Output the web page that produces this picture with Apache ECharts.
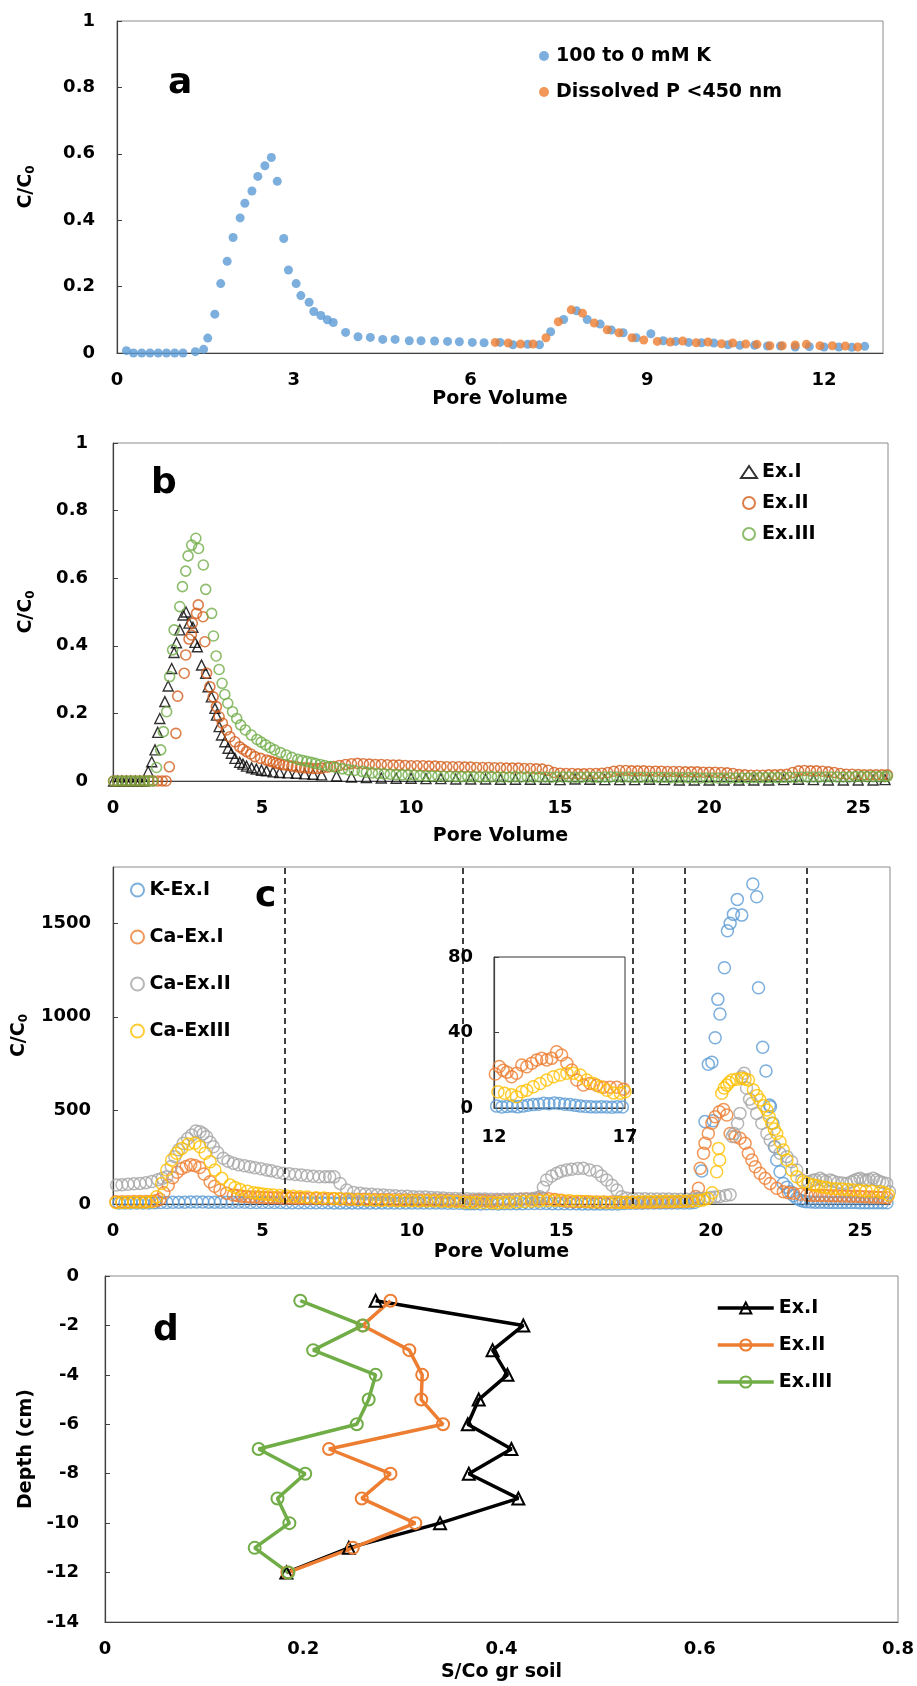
<!DOCTYPE html>
<html>
<head>
<meta charset="utf-8">
<title>Breakthrough curves and soil profiles</title>
<script src="https://cdn.jsdelivr.net/npm/echarts@6.0.0/dist/echarts.min.js"></script>
<style>
  html, body { margin: 0; padding: 0; background: #fff; }
  #chart { width: 917px; height: 1686px; }
</style>
</head>
<body>
<div id="chart"></div>
<script>
// ---- panel a: pore volume vs C/C0 ----
const aK = [[0.16,0.007],[0.28,0],[0.42,0],[0.56,0],[0.70,0],[0.84,0],[0.98,0],[1.12,0],[1.33,0.004],[1.47,0.011],[1.54,0.045],[1.66,0.117],[1.76,0.209],[1.87,0.276],[1.97,0.348],[2.09,0.407],[2.17,0.451],[2.29,0.488],[2.39,0.532],[2.51,0.564],[2.62,0.589],[2.72,0.517],[2.83,0.345],[2.91,0.250],[3.04,0.209],[3.12,0.173],[3.26,0.153],[3.34,0.125],[3.46,0.113],[3.57,0.100],[3.67,0.092],[3.88,0.062],[4.09,0.049],[4.30,0.047],[4.51,0.041],[4.72,0.041],[4.96,0.037],[5.16,0.037],[5.39,0.036],[5.61,0.035],[5.81,0.034],[6.03,0.032],[6.23,0.031],[6.50,0.032],[6.72,0.025],[6.97,0.026],[7.17,0.025],[7.36,0.064],[7.58,0.101],[7.80,0.127],[7.98,0.101],[8.20,0.087],[8.39,0.069],[8.59,0.061],[8.81,0.046],[9.06,0.058],[9.27,0.037],[9.48,0.035],[9.70,0.032],[9.92,0.031],[10.13,0.030],[10.37,0.025],[10.57,0.023],[10.82,0.023],[11.04,0.021],[11.26,0.021],[11.51,0.018],[11.75,0.019],[12.00,0.018],[12.25,0.018],[12.47,0.017],[12.69,0.020]];
const aP = [[6.42,0.032],[6.64,0.030],[6.85,0.027],[7.06,0.027],[7.28,0.046],[7.49,0.094],[7.71,0.130],[7.90,0.120],[8.10,0.090],[8.32,0.070],[8.52,0.061],[8.74,0.046],[8.94,0.039],[9.17,0.035],[9.39,0.033],[9.60,0.036],[9.83,0.031],[10.03,0.033],[10.26,0.028],[10.45,0.030],[10.67,0.027],[10.86,0.026],[11.08,0.022],[11.29,0.022],[11.51,0.024],[11.70,0.026],[11.93,0.022],[12.14,0.022],[12.36,0.021],[12.57,0.018]];

// ---- panel b ----
const bEx1 = [[0.02,0],[0.15,0],[0.3,0],[0.45,0],[0.6,0],[0.75,0],[0.9,0],[1.05,0],[1.18,0.028],[1.30,0.057],[1.41,0.092],[1.50,0.144],[1.57,0.185],[1.74,0.235],[1.85,0.281],[1.97,0.333],[2.05,0.380],[2.13,0.409],[2.24,0.447],[2.35,0.491],[2.45,0.500],[2.55,0.467],[2.68,0.455],[2.75,0.410],[2.83,0.397],[2.97,0.343],[3.11,0.319],[3.19,0.279],[3.30,0.249],[3.42,0.215],[3.47,0.195],[3.56,0.161],[3.64,0.136],[3.75,0.116],[3.86,0.097],[3.97,0.082],[4.09,0.067],[4.25,0.055],[4.36,0.050],[4.48,0.044],[4.65,0.039],[4.81,0.035],[4.98,0.032],[5.15,0.030],[5.37,0.027],[5.59,0.025],[5.87,0.024],[6.15,0.023],[6.43,0.021],[6.71,0.020],[7.0,0.018],[7.5,0.015],[8.0,0.012],[8.5,0.010],[9.0,0.009],[9.5,0.008],[10.0,0.008],[10.5,0.007],[11.0,0.007],[11.5,0.006],[12.0,0.006],[12.5,0.006],[13.0,0.005],[13.5,0.005],[14.0,0.005],[14.5,0.005],[15.0,0.004],[15.5,0.006],[16.0,0.005],[16.5,0.004],[17.0,0.004],[17.5,0.004],[18.0,0.005],[18.5,0.004],[19.0,0.003],[19.5,0.003],[20.0,0.003],[20.5,0.003],[21.0,0.003],[21.5,0.003],[22.0,0.003],[22.5,0.004],[23.0,0.005],[23.5,0.004],[24.0,0.003],[24.5,0.003],[25.0,0.003],[25.5,0.003],[25.9,0.004]];
const bEx2 = [[0.02,0],[0.15,0],[0.3,0],[0.45,0],[0.6,0],[0.75,0],[0.9,0],[1.05,0],[1.2,0],[1.35,0],[1.5,0],[1.65,0],[1.78,0],[1.89,0.042],[2.11,0.141],[2.17,0.251],[2.39,0.319],[2.44,0.373],[2.55,0.420],[2.63,0.432],[2.66,0.467],[2.80,0.496],[2.86,0.521],[3.02,0.486],[3.08,0.412],[3.14,0.319],[3.25,0.279],[3.36,0.249],[3.47,0.220],[3.56,0.190],[3.67,0.171],[3.81,0.151],[3.92,0.131],[4.09,0.116],[4.25,0.101],[4.36,0.094],[4.48,0.087],[4.62,0.080],[4.76,0.072],[4.95,0.067],[5.15,0.062],[5.26,0.059],[5.37,0.056],[5.48,0.053],[5.59,0.050],[5.73,0.048],[5.87,0.046],[6.0,0.044],[6.15,0.042],[6.29,0.040],[6.43,0.039],[6.57,0.038],[6.71,0.037],[6.85,0.037],[7.0,0.038],[7.2,0.041],[7.4,0.043],[7.6,0.046],[7.8,0.049],[8.0,0.051],[8.2,0.052],[8.4,0.051],[8.6,0.050],[8.8,0.049],[9.0,0.049],[9.2,0.048],[9.4,0.047],[9.6,0.047],[9.8,0.046],[10.0,0.045],[10.2,0.045],[10.4,0.045],[10.6,0.044],[10.8,0.044],[11.0,0.043],[11.2,0.042],[11.4,0.042],[11.6,0.042],[11.8,0.041],[12.0,0.041],[12.2,0.040],[12.4,0.040],[12.6,0.040],[12.8,0.039],[13.0,0.039],[13.2,0.038],[13.4,0.038],[13.6,0.038],[13.8,0.037],[14.0,0.037],[14.2,0.036],[14.4,0.035],[14.6,0.032],[14.8,0.025],[15.0,0.023],[15.2,0.022],[15.4,0.022],[15.6,0.021],[15.8,0.021],[16.0,0.022],[16.2,0.022],[16.4,0.023],[16.6,0.025],[16.8,0.029],[17.0,0.031],[17.2,0.031],[17.4,0.030],[17.6,0.030],[17.8,0.030],[18.0,0.029],[18.2,0.029],[18.4,0.029],[18.6,0.028],[18.8,0.028],[19.0,0.028],[19.2,0.027],[19.4,0.027],[19.6,0.027],[19.8,0.026],[20.0,0.026],[20.2,0.026],[20.4,0.025],[20.6,0.024],[20.8,0.022],[21.0,0.019],[21.2,0.018],[21.4,0.017],[21.6,0.017],[21.8,0.017],[22.0,0.018],[22.2,0.018],[22.4,0.019],[22.6,0.020],[22.8,0.025],[23.0,0.030],[23.2,0.031],[23.4,0.030],[23.6,0.030],[23.8,0.029],[24.0,0.027],[24.2,0.025],[24.4,0.022],[24.6,0.020],[24.8,0.020],[25.0,0.019],[25.2,0.018],[25.4,0.018],[25.6,0.018],[25.8,0.018],[25.98,0.018]];
const bEx3 = [[0.02,0],[0.15,0],[0.3,0],[0.45,0],[0.6,0],[0.75,0],[0.9,0],[1.05,0],[1.2,0],[1.33,0],[1.46,0.040],[1.60,0.092],[1.69,0.146],[1.80,0.205],[1.90,0.309],[2.00,0.388],[2.05,0.447],[2.24,0.516],[2.33,0.575],[2.44,0.621],[2.52,0.666],[2.64,0.698],[2.78,0.718],[2.87,0.688],[3.03,0.639],[3.11,0.567],[3.31,0.496],[3.37,0.429],[3.46,0.370],[3.56,0.330],[3.66,0.289],[3.75,0.256],[3.85,0.230],[4.01,0.205],[4.15,0.185],[4.28,0.166],[4.44,0.151],[4.64,0.136],[4.83,0.123],[4.97,0.115],[5.12,0.107],[5.27,0.099],[5.42,0.092],[5.62,0.084],[5.81,0.077],[6.0,0.070],[6.20,0.064],[6.35,0.061],[6.50,0.058],[6.65,0.055],[6.79,0.052],[6.95,0.049],[7.10,0.046],[7.3,0.043],[7.48,0.040],[7.7,0.036],[7.9,0.033],[8.1,0.031],[8.36,0.028],[8.5,0.026],[8.7,0.024],[8.9,0.022],[9.1,0.021],[9.3,0.020],[9.5,0.019],[9.7,0.018],[9.9,0.018],[10.1,0.017],[10.3,0.016],[10.5,0.015],[10.7,0.015],[10.9,0.014],[11.1,0.014],[11.3,0.014],[11.5,0.013],[11.7,0.013],[11.9,0.013],[12.1,0.013],[12.3,0.012],[12.5,0.013],[12.7,0.013],[12.9,0.012],[13.1,0.012],[13.3,0.012],[13.5,0.013],[13.7,0.012],[13.9,0.012],[14.1,0.012],[14.3,0.012],[14.5,0.012],[14.7,0.011],[14.9,0.012],[15.1,0.012],[15.3,0.012],[15.5,0.011],[15.7,0.011],[15.9,0.012],[16.1,0.011],[16.3,0.011],[16.5,0.012],[16.7,0.012],[16.9,0.012],[17.1,0.011],[17.3,0.012],[17.5,0.011],[17.7,0.011],[17.9,0.011],[18.1,0.011],[18.3,0.011],[18.5,0.011],[18.7,0.010],[18.9,0.010],[19.1,0.010],[19.3,0.010],[19.5,0.010],[19.7,0.009],[19.9,0.009],[20.1,0.009],[20.3,0.009],[20.5,0.009],[20.7,0.009],[20.9,0.009],[21.1,0.009],[21.3,0.009],[21.5,0.010],[21.7,0.010],[21.9,0.010],[22.1,0.010],[22.3,0.010],[22.5,0.011],[22.7,0.011],[22.9,0.011],[23.1,0.012],[23.3,0.012],[23.5,0.012],[23.7,0.012],[23.9,0.012],[24.1,0.012],[24.3,0.012],[24.5,0.012],[24.7,0.012],[24.9,0.013],[25.1,0.013],[25.3,0.013],[25.5,0.013],[25.7,0.013],[25.9,0.013],[25.98,0.014]];

// ---- panel c ----
const cK = [[0.2,6],[0.4,6],[0.6,6],[0.8,6],[1.0,6],[1.2,6],[1.4,7],[1.6,8],[1.8,8],[2.0,9],[2.2,10],[2.4,10],[2.6,11],[2.8,11],[3.0,11],[3.2,10],[3.4,10],[3.6,10],[3.8,9],[4.0,9],[4.2,9],[4.4,9],[4.6,8],[4.8,8],[5.0,8],[5.2,8],[5.4,8],[5.6,8],[5.8,7],[6.0,7],[6.2,7],[6.4,7],[6.6,7],[6.8,7],[7.0,7],[7.2,7],[7.4,6],[7.6,6],[7.8,6],[8.0,6],[8.2,6],[8.4,6],[8.6,6],[8.8,6],[9.0,6],[9.2,5],[9.4,5],[9.6,5],[9.8,5],[10.0,5],[10.2,5],[10.4,5],[10.6,5],[10.8,5],[11.0,5],[11.2,4],[11.4,4],[11.6,4],[11.8,2],[11.95,1],[12.1,1],[12.3,0.5],[12.5,0.8],[12.7,1],[12.9,0.6],[13.1,1],[13.3,1.5],[13.5,1.8],[13.7,2],[13.9,2.5],[14.1,2.2],[14.3,2.6],[14.5,2.4],[14.7,2],[14.9,1.8],[15.1,1.4],[15.3,1],[15.5,0.8],[15.7,0.6],[15.9,0.5],[16.1,0.6],[16.3,0.5],[16.5,0.4],[16.7,0.6],[16.9,0.5],[17.1,3],[17.3,4],[17.5,4],[17.7,4],[17.9,5],[18.1,5],[18.3,5],[18.5,5],[18.7,5],[18.9,5],[19.1,5],[19.3,5],[19.45,8],[19.59,30],[19.70,176],[19.81,440],[19.92,746],[20.04,757],[20.08,445],[20.15,888],[20.24,1093],[20.31,1015],[20.46,1262],[20.56,1459],[20.65,1499],[20.76,1547],[20.89,1627],[21.04,1543],[21.41,1709],[21.54,1641],[21.60,1155],[21.74,837],[21.85,710],[21.97,529],[22.0,520],[22.08,431],[22.13,306],[22.21,235],[22.32,172],[22.43,110],[22.55,90],[22.66,66],[22.77,45],[22.88,30],[23.0,20],[23.1,15],[23.2,12],[23.35,11],[23.5,10],[23.65,9.5],[23.8,9],[23.95,8.5],[24.1,8],[24.25,8],[24.4,8],[24.55,8],[24.7,8],[24.85,7.5],[25.0,7],[25.15,7],[25.3,7],[25.45,7],[25.6,7],[25.75,7],[25.9,7]];
const cCa1 = [[0.1,12],[0.3,12],[0.5,12],[0.7,13],[0.9,13],[1.1,14],[1.3,15],[1.45,18],[1.57,25],[1.70,60],[1.85,100],[2.0,140],[2.15,170],[2.3,190],[2.45,200],[2.6,210],[2.74,205],[2.9,195],[3.05,160],[3.25,119],[3.4,95],[3.58,75],[3.8,58],[4.03,48],[4.17,45],[4.3,42],[4.45,40],[4.6,38],[4.75,37],[4.9,36],[5.05,35],[5.2,34],[5.35,33.5],[5.5,33],[5.65,32.5],[5.8,32],[5.95,31.5],[6.1,31],[6.25,30.5],[6.4,30],[6.6,29.5],[6.8,29],[7.0,28],[7.2,28],[7.4,27.5],[7.6,27],[7.8,26.5],[8.0,26],[8.2,25],[8.4,25],[8.6,25],[8.8,24],[9.0,24],[9.2,24],[9.4,23],[9.6,23],[9.8,23],[10.0,22],[10.2,22],[10.4,22],[10.6,21],[10.8,21],[11.0,21],[11.2,20],[11.4,19],[11.6,18],[11.8,17],[12.05,18],[12.2,22],[12.35,20],[12.5,19],[12.67,16.6],[12.86,18.4],[13.06,22.8],[13.25,21.9],[13.44,23.7],[13.63,25.4],[13.82,26.3],[14.01,25.4],[14.2,26.3],[14.39,29.8],[14.58,28.1],[14.78,23.7],[14.97,20.1],[15.16,14.8],[15.41,12.2],[15.67,13],[15.92,12],[16.18,11],[16.43,11],[16.69,11],[16.95,10],[17.15,10],[17.35,10],[17.55,10],[17.75,10],[17.95,10],[18.15,10],[18.35,11],[18.55,11],[18.75,11],[18.95,12],[19.15,13],[19.35,15],[19.5,40],[19.59,84],[19.65,191],[19.76,271],[19.81,324],[19.92,377],[20.04,431],[20.15,466],[20.29,493],[20.43,505],[20.54,475],[20.65,377],[20.82,359],[20.98,351],[21.15,324],[21.26,271],[21.38,235],[21.49,199],[21.65,164],[21.82,137],[21.99,110],[22.21,84],[22.43,66],[22.6,60],[22.77,57],[23.0,52],[23.22,48],[23.35,47],[23.5,46],[23.65,45.5],[23.8,45],[23.95,44.5],[24.1,44],[24.25,43.5],[24.4,43],[24.55,42.5],[24.7,42],[24.85,41],[25.0,40],[25.15,39],[25.3,38],[25.45,37],[25.6,36],[25.75,35],[25.9,34]];
const cCa2 = [[0.12,101],[0.3,103],[0.5,105],[0.7,108],[0.9,110],[1.1,114],[1.3,120],[1.5,130],[1.65,138],[1.80,146],[1.95,200],[2.07,253],[2.2,290],[2.35,324],[2.5,350],[2.63,368],[2.77,390],[2.91,386],[3.02,375],[3.13,359],[3.25,330],[3.36,306],[3.5,275],[3.69,244],[3.85,228],[4.03,217],[4.2,210],[4.4,204],[4.58,199],[4.75,194],[4.95,188],[5.14,182],[5.3,177],[5.5,170],[5.7,164],[5.9,161],[6.1,158],[6.3,155],[6.5,151],[6.7,148],[6.9,146],[7.1,146],[7.25,146],[7.4,145],[7.6,110],[7.82,75],[8.05,62],[8.27,57],[8.45,54],[8.65,52],[8.85,50],[9.05,48],[9.25,46],[9.45,44],[9.65,42],[9.85,41],[10.05,39],[10.25,38],[10.45,37],[10.65,35],[10.85,34],[11.05,32],[11.25,30],[11.45,29],[11.65,28],[11.85,28],[12.05,27],[12.25,27],[12.45,27],[12.65,26],[12.85,26],[13.05,26],[13.25,26],[13.45,26],[13.65,27],[13.85,27],[14.05,30],[14.2,34],[14.29,39],[14.4,90],[14.51,128],[14.68,150],[14.85,164],[15.0,175],[15.18,182],[15.35,186],[15.55,190],[15.74,191],[15.95,182],[16.19,173],[16.35,150],[16.52,128],[16.7,100],[16.86,75],[17.02,39],[17.2,31],[17.4,29],[17.6,28],[17.8,28],[18.0,27],[18.2,27],[18.4,27],[18.6,27],[18.8,26],[19.0,26],[19.2,26],[19.4,27],[19.6,29],[19.8,31],[20.0,35],[20.15,38],[20.3,40],[20.5,45],[20.65,50],[20.72,360],[20.78,377],[20.9,430],[20.98,484],[21.04,680],[21.12,698],[21.2,620],[21.3,560],[21.38,538],[21.54,484],[21.71,431],[21.88,377],[21.99,342],[22.15,306],[22.32,271],[22.55,253],[22.71,226],[22.88,182],[23.05,128],[23.27,119],[23.4,125],[23.5,130],[23.66,137],[23.75,128],[23.85,120],[24.0,128],[24.1,122],[24.25,115],[24.4,112],[24.55,110],[24.7,118],[24.8,125],[24.9,132],[25.0,137],[25.1,130],[25.2,125],[25.3,131],[25.44,137],[25.55,128],[25.65,120],[25.75,115],[25.89,110],[25.98,66]];
const cCa3 = [[0.1,8],[0.3,8],[0.5,8],[0.7,9],[0.9,9],[1.1,10],[1.3,12],[1.46,39],[1.63,110],[1.80,182],[1.96,235],[2.13,271],[2.30,297],[2.52,320],[2.74,324],[2.91,306],[3.08,271],[3.25,226],[3.41,182],[3.64,137],[3.92,101],[4.08,88],[4.25,78],[4.5,68],[4.70,60],[4.85,57],[5.0,54],[5.18,51],[5.36,48],[5.58,45],[5.8,43],[6.03,41],[6.26,39],[6.5,37],[6.8,34],[7.05,32],[7.37,30],[7.6,28],[7.9,25],[8.2,23],[8.49,21],[8.75,20],[9.0,19],[9.25,18.5],[9.5,18],[9.75,17.5],[10.0,17],[10.25,16.5],[10.5,16],[10.75,15.5],[11.0,15],[11.25,14],[11.5,12],[11.75,10],[11.95,8.6],[12.15,8.6],[12.4,7.8],[12.67,7],[12.86,6],[13.06,8.6],[13.25,9.4],[13.5,11.3],[13.76,13],[14.01,14.8],[14.27,16.6],[14.52,17.5],[14.78,18.4],[15.03,18.4],[15.29,17.5],[15.54,14.8],[15.80,13],[16.05,11.3],[16.31,9.4],[16.56,8],[16.82,7.8],[17.0,8.6],[17.2,9.5],[17.4,10],[17.6,11],[17.8,11.5],[18.0,12],[18.2,13],[18.4,13.5],[18.6,14],[18.8,14],[19.0,14.5],[19.2,15],[19.4,16],[19.6,18],[19.75,22],[19.9,30],[20.05,60],[20.2,172],[20.3,235],[20.26,297],[20.37,591],[20.45,620],[20.54,635],[20.62,650],[20.71,662],[20.87,666],[21.04,671],[21.15,668],[21.26,662],[21.43,609],[21.55,580],[21.65,555],[21.78,525],[21.88,502],[21.96,465],[22.04,431],[22.13,400],[22.21,377],[22.32,333],[22.43,288],[22.55,235],[22.71,182],[22.88,146],[23.10,119],[23.25,110],[23.44,101],[23.55,97],[23.7,92],[23.85,88],[24.0,84],[24.2,82],[24.4,80],[24.6,77],[24.78,75],[25.0,72],[25.2,70],[25.4,68],[25.67,66],[25.8,60],[25.95,48]];
const cLines = [5.75, 11.7, 17.38, 19.13, 23.2];

// ---- panel d: depth profile ----
const depth = [-1, -2, -3, -4, -5, -6, -7, -8, -9, -10, -11, -12];
const dEx1 = [0.273, 0.422, 0.391, 0.406, 0.377, 0.366, 0.410, 0.367, 0.417, 0.338, 0.246, 0.183];
const dEx2 = [0.288, 0.260, 0.307, 0.320, 0.319, 0.341, 0.226, 0.288, 0.259, 0.313, 0.250, 0.184];
const dEx3 = [0.197, 0.260, 0.210, 0.273, 0.266, 0.254, 0.155, 0.202, 0.174, 0.186, 0.151, 0.185];

const FONT = "'DejaVu Sans', sans-serif";
const BLUE = '#5B9BD5', ORANGE = '#ED7D31', GRAY = '#A5A5A5', YELLOW = '#FFC000', GREEN = '#70AD47', RUST = '#D35E1C';

function hollow(color, w) {
  return { color: 'rgba(0,0,0,0)', borderColor: color, borderWidth: w };
}

function grid(left, top, width, height, border) {
  return { left, top, width, height, show: true, borderColor: border || '#8c8c8c', borderWidth: 1, outerBoundsMode: 'none' };
}

function xAx(g, min, max, step, name, gap, showMax) {
  return {
    type: 'value', gridIndex: g, min, max, interval: step,
    name, nameLocation: 'middle', nameGap: gap,
    nameTextStyle: { fontFamily: FONT, fontWeight: 'bold', fontSize: 19, color: '#000' },
    splitLine: { show: false }, axisTick: { show: false },
    axisLine: { onZero: false, lineStyle: { color: '#404040', width: 1.2 } },
    axisLabel: { margin: 18, showMaxLabel: !!showMax, fontFamily: FONT, fontWeight: 'bold', fontSize: 18, color: '#000' }
  };
}

function yAx(g, min, max, step, name, gap, margin, showMax) {
  return {
    type: 'value', gridIndex: g, min, max, interval: step,
    name, nameLocation: 'middle', nameGap: gap, nameRotate: 90,
    nameTextStyle: {
      fontFamily: FONT, fontWeight: 'bold', fontSize: 19, color: '#000',
      rich: { s: { fontFamily: FONT, fontWeight: 'bold', fontSize: 12, color: '#000', padding: [9, 0, 0, 0] } }
    },
    splitLine: { show: false },
    axisTick: { show: true, inside: true, length: 5, lineStyle: { color: '#404040' } },
    axisLine: { onZero: false, lineStyle: { color: '#404040', width: 1.2 } },
    axisLabel: { margin, showMaxLabel: showMax !== false, formatter: v => String(v),
      fontFamily: FONT, fontWeight: 'bold', fontSize: 18, color: '#000' }
  };
}

const legendText = { fontFamily: FONT, fontWeight: 'bold', fontSize: 19, color: '#000', lineHeight: 22 };
const letter = { fontFamily: FONT, fontWeight: 'bold', fontSize: 36, color: '#000' };

const chart = echarts.init(document.getElementById('chart'), null, { renderer: 'canvas' });

const option = {
  animation: false,
  backgroundColor: '#fff',
  title: [
    { text: 'a', left: 168, top: 66, padding: 0, textStyle: letter },
    { text: 'b', left: 151, top: 466, padding: 0, textStyle: letter },
    { text: 'c', left: 255, top: 879, padding: 0, textStyle: letter },
    { text: 'd', left: 153, top: 1313, padding: 0, textStyle: letter }
  ],
  grid: [
    grid(117, 21, 766, 332),
    grid(113, 443, 775, 338),
    grid(113, 867, 777, 337),
    grid(494, 957, 131, 151, '#333'),
    grid(105, 1276, 793, 346)
  ],
  xAxis: [
    xAx(0, 0, 13, 3, 'Pore Volume', 37),
    xAx(1, 0, 26, 5, 'Pore Volume', 46),
    xAx(2, 0, 26, 5, 'Pore Volume', 39),
    {
      type: 'value', gridIndex: 3, min: 12, max: 17,
      splitLine: { show: false }, axisTick: { show: false },
      axisLine: { onZero: false, lineStyle: { color: '#333', width: 1 } },
      axisLabel: { margin: 20, customValues: [12, 17], fontFamily: FONT, fontWeight: 'bold', fontSize: 18, color: '#000' }
    },
    xAx(4, 0, 0.8, 0.2, 'S/Co gr soil', 41, true)
  ],
  yAxis: [
    yAx(0, 0, 1, 0.2, 'C/C{s|0}', 80, 22),
    yAx(1, 0, 1, 0.2, 'C/C{s|0}', 76, 25),
    yAx(2, 0, 1800, 500, 'C/C{s|0}', 80, 22, false),
    yAx(3, 0, 80, 40, '', 0, 21),
    yAx(4, -14, 0, 2, 'Depth (cm)', 59, 26)
  ],
  legend: [
    { data: ['100 to 0 mM K', 'Dissolved P <450 nm'], orient: 'vertical', left: 539, top: 45, padding: 0,
      itemWidth: 14, itemHeight: 10, itemGap: 14, selectedMode: false, textStyle: legendText },
    { data: ['Ex.I', 'Ex.II', 'Ex.III'], orient: 'vertical', left: 740, top: 461, padding: 0,
      itemWidth: 16, itemHeight: 12, itemGap: 9, selectedMode: false, textStyle: legendText },
    { data: ['K-Ex.I', 'Ca-Ex.I', 'Ca-Ex.II', 'Ca-ExIII'], orient: 'vertical', left: 130, top: 879, padding: 0,
      itemWidth: 14, itemHeight: 13, itemGap: 25, selectedMode: false, textStyle: legendText },
    { data: ['Ex.I ', 'Ex.II ', 'Ex.III '], orient: 'vertical', left: 716, top: 1297, padding: 0,
      itemWidth: 56, itemHeight: 14, itemGap: 15, selectedMode: false, textStyle: legendText,
      lineStyle: { width: 3.5 } }
  ],
  series: [
    // a
    { name: '100 to 0 mM K', type: 'scatter', xAxisIndex: 0, yAxisIndex: 0, data: aK, symbolSize: 9, clip: false,
      itemStyle: { color: BLUE } },
    { name: 'Dissolved P <450 nm', type: 'scatter', xAxisIndex: 0, yAxisIndex: 0, data: aP, symbolSize: 9, clip: false,
      itemStyle: { color: ORANGE } },
    // b
    { name: 'Ex.I', type: 'scatter', xAxisIndex: 1, yAxisIndex: 1, data: bEx1, symbol: 'triangle', symbolSize: 10, clip: false,
      itemStyle: hollow('#000', 1.4) },
    { name: 'Ex.II', type: 'scatter', xAxisIndex: 1, yAxisIndex: 1, data: bEx2, symbol: 'circle', symbolSize: 10, clip: false,
      itemStyle: hollow(RUST, 1.6) },
    { name: 'Ex.III', type: 'scatter', xAxisIndex: 1, yAxisIndex: 1, data: bEx3, symbol: 'circle', symbolSize: 10, clip: false,
      itemStyle: hollow(GREEN, 1.6) },
    // c
    { name: 'K-Ex.I', type: 'scatter', xAxisIndex: 2, yAxisIndex: 2, data: cK, symbol: 'circle', symbolSize: 12, clip: false,
      itemStyle: hollow(BLUE, 1.5) },
    { name: 'Ca-Ex.I', type: 'scatter', xAxisIndex: 2, yAxisIndex: 2, data: cCa1, symbol: 'circle', symbolSize: 12, clip: false,
      itemStyle: hollow(ORANGE, 1.5) },
    { name: 'Ca-Ex.II', type: 'scatter', xAxisIndex: 2, yAxisIndex: 2, data: cCa2, symbol: 'circle', symbolSize: 12, clip: false,
      itemStyle: hollow(GRAY, 1.5),
      markLine: { silent: true, symbol: ['none', 'none'], label: { show: false },
        lineStyle: { color: '#000', type: [6, 4], width: 1.5 },
        data: cLines.map(v => ({ xAxis: v })) } },
    { name: 'Ca-ExIII', type: 'scatter', xAxisIndex: 2, yAxisIndex: 2, data: cCa3, symbol: 'circle', symbolSize: 12, clip: false,
      itemStyle: hollow(YELLOW, 1.5) },
    // c inset (12 - 17 PV)
    { name: 'K-Ex.I inset', type: 'scatter', xAxisIndex: 3, yAxisIndex: 3, data: cK, symbol: 'circle', symbolSize: 12, clip: true,
      itemStyle: hollow(BLUE, 1.5) },
    { name: 'Ca-Ex.I inset', type: 'scatter', xAxisIndex: 3, yAxisIndex: 3, data: cCa1, symbol: 'circle', symbolSize: 12, clip: true,
      itemStyle: hollow(ORANGE, 1.5) },
    { name: 'Ca-ExIII inset', type: 'scatter', xAxisIndex: 3, yAxisIndex: 3, data: cCa3, symbol: 'circle', symbolSize: 12, clip: true,
      itemStyle: hollow(YELLOW, 1.5) },
    // d
    { name: 'Ex.I ', type: 'line', xAxisIndex: 4, yAxisIndex: 4, data: depth.map((d, i) => [dEx1[i], d]),
      color: '#000', symbol: 'triangle', symbolSize: 12, lineStyle: { color: '#000', width: 3.5 },
      itemStyle: hollow('#000', 2) },
    { name: 'Ex.II ', type: 'line', xAxisIndex: 4, yAxisIndex: 4, data: depth.map((d, i) => [dEx2[i], d]),
      color: ORANGE, symbol: 'circle', symbolSize: 12, lineStyle: { color: ORANGE, width: 3.5 },
      itemStyle: hollow(ORANGE, 2) },
    { name: 'Ex.III ', type: 'line', xAxisIndex: 4, yAxisIndex: 4, data: depth.map((d, i) => [dEx3[i], d]),
      color: GREEN, symbol: 'circle', symbolSize: 12, lineStyle: { color: GREEN, width: 3.5 },
      itemStyle: hollow(GREEN, 2) }
  ]
};

chart.setOption(option);
</script>
</body>
</html>
